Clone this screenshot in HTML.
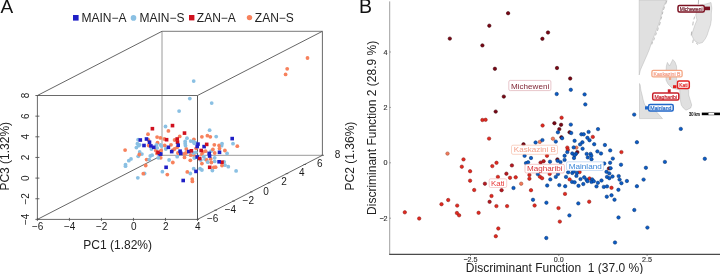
<!DOCTYPE html>
<html><head><meta charset="utf-8"><style>
html,body{margin:0;padding:0;background:#fff;width:720px;height:274px;overflow:hidden}
svg{display:block;will-change:transform}
text{font-family:"Liberation Sans",sans-serif}
</style></head><body>
<svg width="720" height="274" viewBox="0 0 720 274">

<text x="0.5" y="13.2" font-size="19" fill="#111">A</text>
<text x="358.9" y="13.4" font-size="19.5" fill="#111">B</text>
<rect x="73" y="15" width="5.6" height="5.6" fill="#1f1fc6"/>
<text x="81.5" y="22" font-size="12" fill="#222">MAIN−A</text>
<circle cx="133.5" cy="17.9" r="2.8" fill="#8ac0e3"/>
<text x="139.5" y="22" font-size="12" fill="#222">MAIN−S</text>
<rect x="189" y="15" width="5.4" height="5.4" fill="#d0101e"/>
<text x="196.8" y="22" font-size="12" fill="#222">ZAN−A</text>
<circle cx="249.5" cy="17.6" r="2.7" fill="#f7815c"/>
<text x="254.8" y="22" font-size="12" fill="#222">ZAN−S</text>
<line x1="162.0" y1="31.3" x2="162.0" y2="155.3" stroke="#9a9a9a" stroke-width="1.0"/>
<line x1="162.0" y1="155.3" x2="322.4" y2="155.3" stroke="#9a9a9a" stroke-width="1.0"/>
<line x1="162.0" y1="31.3" x2="322.4" y2="31.3" stroke="#7a7a7a" stroke-width="1.0"/>
<line x1="322.4" y1="31.3" x2="322.4" y2="155.3" stroke="#6a6a6a" stroke-width="1.0"/>
<line x1="37.4" y1="95.5" x2="162.0" y2="31.3" stroke="#555" stroke-width="0.9"/>
<line x1="197.5" y1="95.5" x2="322.4" y2="31.3" stroke="#555" stroke-width="0.9"/>
<line x1="37.4" y1="219.4" x2="162.0" y2="155.3" stroke="#555" stroke-width="0.9"/>
<line x1="197.5" y1="219.4" x2="322.4" y2="155.3" stroke="#555" stroke-width="0.9"/>
<line x1="37.4" y1="95.5" x2="197.5" y2="95.5" stroke="#6a6a6a" stroke-width="1.0"/>
<line x1="37.4" y1="95.5" x2="37.4" y2="219.4" stroke="#6a6a6a" stroke-width="1.0"/>
<line x1="37.4" y1="219.4" x2="197.5" y2="219.4" stroke="#6a6a6a" stroke-width="1.0"/>
<line x1="197.5" y1="95.5" x2="197.5" y2="219.4" stroke="#555" stroke-width="1.0"/>
<line x1="35.4" y1="95.5" x2="39.4" y2="95.5" stroke="#555" stroke-width="0.9"/>
<text transform="translate(28.8,95.5) rotate(-90)" font-size="10" fill="#1a1a1a" text-anchor="middle">8</text>
<line x1="35.4" y1="116.15" x2="39.4" y2="116.15" stroke="#555" stroke-width="0.9"/>
<text transform="translate(28.8,116.2) rotate(-90)" font-size="10" fill="#1a1a1a" text-anchor="middle">6</text>
<line x1="35.4" y1="136.8" x2="39.4" y2="136.8" stroke="#555" stroke-width="0.9"/>
<text transform="translate(28.8,136.8) rotate(-90)" font-size="10" fill="#1a1a1a" text-anchor="middle">4</text>
<line x1="35.4" y1="157.45" x2="39.4" y2="157.45" stroke="#555" stroke-width="0.9"/>
<text transform="translate(28.8,157.4) rotate(-90)" font-size="10" fill="#1a1a1a" text-anchor="middle">2</text>
<line x1="35.4" y1="178.10000000000002" x2="39.4" y2="178.10000000000002" stroke="#555" stroke-width="0.9"/>
<text transform="translate(28.8,178.1) rotate(-90)" font-size="10" fill="#1a1a1a" text-anchor="middle">0</text>
<line x1="35.4" y1="198.75" x2="39.4" y2="198.75" stroke="#555" stroke-width="0.9"/>
<text transform="translate(28.8,198.8) rotate(-90)" font-size="10" fill="#1a1a1a" text-anchor="middle">−2</text>
<line x1="35.4" y1="219.4" x2="39.4" y2="219.4" stroke="#555" stroke-width="0.9"/>
<text transform="translate(28.8,219.4) rotate(-90)" font-size="10" fill="#1a1a1a" text-anchor="middle">−4</text>
<line x1="37.4" y1="217.9" x2="37.4" y2="220.9" stroke="#555" stroke-width="0.9"/>
<text x="37.6" y="230.3" font-size="10" fill="#1a1a1a" text-anchor="middle">−6</text>
<line x1="69.41999999999999" y1="217.9" x2="69.41999999999999" y2="220.9" stroke="#555" stroke-width="0.9"/>
<text x="69.6" y="230.3" font-size="10" fill="#1a1a1a" text-anchor="middle">−4</text>
<line x1="101.44" y1="217.9" x2="101.44" y2="220.9" stroke="#555" stroke-width="0.9"/>
<text x="101.6" y="230.3" font-size="10" fill="#1a1a1a" text-anchor="middle">−2</text>
<line x1="133.45999999999998" y1="217.9" x2="133.45999999999998" y2="220.9" stroke="#555" stroke-width="0.9"/>
<text x="133.7" y="230.3" font-size="10" fill="#1a1a1a" text-anchor="middle">0</text>
<line x1="165.48" y1="217.9" x2="165.48" y2="220.9" stroke="#555" stroke-width="0.9"/>
<text x="165.7" y="230.3" font-size="10" fill="#1a1a1a" text-anchor="middle">2</text>
<line x1="197.49999999999997" y1="217.9" x2="197.49999999999997" y2="220.9" stroke="#555" stroke-width="0.9"/>
<text x="197.7" y="230.3" font-size="10" fill="#1a1a1a" text-anchor="middle">4</text>
<line x1="196.5" y1="219.4" x2="199.0" y2="219.4" stroke="#555" stroke-width="0.9"/>
<text x="212.6" y="222.0" font-size="10" fill="#1a1a1a" text-anchor="middle">−6</text>
<line x1="214.34285714285713" y1="210.24285714285716" x2="216.84285714285713" y2="210.24285714285716" stroke="#555" stroke-width="0.9"/>
<text x="230.4" y="212.8" font-size="10" fill="#1a1a1a" text-anchor="middle">−4</text>
<line x1="232.18571428571428" y1="201.0857142857143" x2="234.68571428571428" y2="201.0857142857143" stroke="#555" stroke-width="0.9"/>
<text x="248.3" y="203.7" font-size="10" fill="#1a1a1a" text-anchor="middle">−2</text>
<line x1="250.0285714285714" y1="191.92857142857144" x2="252.5285714285714" y2="191.92857142857144" stroke="#555" stroke-width="0.9"/>
<text x="266.1" y="194.5" font-size="10" fill="#1a1a1a" text-anchor="middle">0</text>
<line x1="267.87142857142857" y1="182.77142857142857" x2="270.37142857142857" y2="182.77142857142857" stroke="#555" stroke-width="0.9"/>
<text x="284.0" y="185.4" font-size="10" fill="#1a1a1a" text-anchor="middle">2</text>
<line x1="285.71428571428567" y1="173.61428571428573" x2="288.21428571428567" y2="173.61428571428573" stroke="#555" stroke-width="0.9"/>
<text x="301.8" y="176.2" font-size="10" fill="#1a1a1a" text-anchor="middle">4</text>
<line x1="303.5571428571428" y1="164.45714285714286" x2="306.0571428571428" y2="164.45714285714286" stroke="#555" stroke-width="0.9"/>
<text x="319.7" y="167.1" font-size="10" fill="#1a1a1a" text-anchor="middle">6</text>
<line x1="321.4" y1="155.3" x2="323.9" y2="155.3" stroke="#555" stroke-width="0.9"/>
<text x="337.5" y="157.9" font-size="10" fill="#1a1a1a" text-anchor="middle">8</text>
<text x="83.3" y="248.7" font-size="12" fill="#222">PC1 (1.82%)</text>
<text transform="translate(9.4,190.6) rotate(-90)" font-size="12" fill="#222">PC3 (1.32%)</text>
<text transform="translate(353.9,190.4) rotate(-90)" font-size="12" fill="#222">PC2 (1.36%)</text>
<circle cx="205.2" cy="159.2" r="1.9" fill="#8ac0e3"/>
<circle cx="137.4" cy="143.7" r="1.9" fill="#8ac0e3"/>
<circle cx="228.3" cy="166.7" r="1.9" fill="#8ac0e3"/>
<circle cx="177.2" cy="156.7" r="1.9" fill="#8ac0e3"/>
<circle cx="211.7" cy="103.1" r="1.9" fill="#8ac0e3"/>
<circle cx="160.4" cy="144.8" r="1.9" fill="#8ac0e3"/>
<circle cx="285.6" cy="74.4" r="1.9" fill="#f7815c"/>
<circle cx="221.6" cy="145.7" r="1.9" fill="#8ac0e3"/>
<circle cx="155.8" cy="150.5" r="1.9" fill="#f7815c"/>
<circle cx="237.3" cy="146.2" r="1.9" fill="#f7815c"/>
<circle cx="200.1" cy="168.7" r="1.9" fill="#8ac0e3"/>
<circle cx="307.5" cy="58" r="1.9" fill="#f7815c"/>
<circle cx="131" cy="158.9" r="1.9" fill="#8ac0e3"/>
<circle cx="172.8" cy="162.5" r="1.9" fill="#f7815c"/>
<circle cx="233" cy="143.7" r="1.9" fill="#8ac0e3"/>
<circle cx="168.4" cy="130.9" r="1.9" fill="#f7815c"/>
<circle cx="206.7" cy="160" r="1.9" fill="#f7815c"/>
<circle cx="136.4" cy="147.6" r="1.9" fill="#8ac0e3"/>
<circle cx="172.8" cy="150.1" r="1.9" fill="#f7815c"/>
<circle cx="214.3" cy="144.8" r="1.9" fill="#f7815c"/>
<circle cx="152.1" cy="155.2" r="1.9" fill="#8ac0e3"/>
<circle cx="194.3" cy="156" r="1.9" fill="#f7815c"/>
<circle cx="171" cy="144.8" r="1.9" fill="#f7815c"/>
<circle cx="177.2" cy="147.3" r="1.9" fill="#f7815c"/>
<circle cx="195.8" cy="152.3" r="1.9" fill="#8ac0e3"/>
<circle cx="201.9" cy="154.1" r="1.9" fill="#f7815c"/>
<circle cx="150.3" cy="156" r="1.9" fill="#8ac0e3"/>
<circle cx="190.3" cy="173.5" r="1.9" fill="#8ac0e3"/>
<circle cx="193.7" cy="81.1" r="1.9" fill="#8ac0e3"/>
<circle cx="209.6" cy="130.2" r="1.9" fill="#8ac0e3"/>
<circle cx="169.1" cy="160" r="1.9" fill="#8ac0e3"/>
<circle cx="193.2" cy="153" r="1.9" fill="#8ac0e3"/>
<circle cx="128.8" cy="160.7" r="1.9" fill="#8ac0e3"/>
<circle cx="194.3" cy="143.3" r="1.9" fill="#8ac0e3"/>
<circle cx="160.7" cy="157.8" r="1.9" fill="#f7815c"/>
<circle cx="157.1" cy="137.1" r="1.9" fill="#f7815c"/>
<circle cx="146.6" cy="159.6" r="1.9" fill="#f7815c"/>
<circle cx="157.5" cy="142.6" r="1.9" fill="#f7815c"/>
<circle cx="137.8" cy="177.8" r="1.9" fill="#8ac0e3"/>
<circle cx="185.2" cy="141.5" r="1.9" fill="#8ac0e3"/>
<circle cx="219.1" cy="145.5" r="1.9" fill="#f7815c"/>
<circle cx="193.9" cy="139.3" r="1.9" fill="#f7815c"/>
<circle cx="203.8" cy="156.7" r="1.9" fill="#8ac0e3"/>
<circle cx="212.4" cy="170.5" r="1.9" fill="#8ac0e3"/>
<circle cx="214.7" cy="157.8" r="1.9" fill="#8ac0e3"/>
<circle cx="144.6" cy="173.5" r="1.9" fill="#8ac0e3"/>
<circle cx="125.1" cy="150.1" r="1.9" fill="#f7815c"/>
<circle cx="195.4" cy="142.6" r="1.9" fill="#8ac0e3"/>
<circle cx="184.1" cy="153.8" r="1.9" fill="#f7815c"/>
<circle cx="174.6" cy="149" r="1.9" fill="#f7815c"/>
<circle cx="187.3" cy="171.9" r="1.9" fill="#f7815c"/>
<circle cx="193.7" cy="168.7" r="1.9" fill="#8ac0e3"/>
<circle cx="190.7" cy="155.2" r="1.9" fill="#f7815c"/>
<circle cx="214.7" cy="161.4" r="1.9" fill="#8ac0e3"/>
<circle cx="145.7" cy="165.5" r="1.9" fill="#f7815c"/>
<circle cx="179.7" cy="136.4" r="1.9" fill="#f7815c"/>
<circle cx="190.3" cy="160.3" r="1.9" fill="#f7815c"/>
<circle cx="185.9" cy="153" r="1.9" fill="#f7815c"/>
<circle cx="207.8" cy="162.2" r="1.9" fill="#8ac0e3"/>
<circle cx="193.2" cy="141.5" r="1.9" fill="#8ac0e3"/>
<circle cx="138.2" cy="156.3" r="1.9" fill="#8ac0e3"/>
<circle cx="225" cy="165.2" r="1.9" fill="#8ac0e3"/>
<circle cx="211.1" cy="151.2" r="1.9" fill="#8ac0e3"/>
<circle cx="138.6" cy="145.7" r="1.9" fill="#8ac0e3"/>
<circle cx="224.2" cy="161.8" r="1.9" fill="#8ac0e3"/>
<circle cx="174.6" cy="140" r="1.9" fill="#f7815c"/>
<circle cx="158.3" cy="157.8" r="1.9" fill="#8ac0e3"/>
<circle cx="151.4" cy="149" r="1.9" fill="#8ac0e3"/>
<circle cx="161.1" cy="150.5" r="1.9" fill="#f7815c"/>
<circle cx="139.7" cy="151.9" r="1.9" fill="#8ac0e3"/>
<circle cx="219.5" cy="148.6" r="1.9" fill="#f7815c"/>
<circle cx="194.3" cy="158.1" r="1.9" fill="#8ac0e3"/>
<circle cx="125.5" cy="164.7" r="1.9" fill="#8ac0e3"/>
<circle cx="211.4" cy="162.5" r="1.9" fill="#f7815c"/>
<circle cx="165.5" cy="126.5" r="1.9" fill="#8ac0e3"/>
<circle cx="201.9" cy="170" r="1.9" fill="#8ac0e3"/>
<circle cx="200.8" cy="160" r="1.9" fill="#8ac0e3"/>
<circle cx="187" cy="138.2" r="1.9" fill="#8ac0e3"/>
<circle cx="141.9" cy="154.1" r="1.9" fill="#8ac0e3"/>
<circle cx="192.2" cy="179.1" r="1.9" fill="#f7815c"/>
<circle cx="207.4" cy="135.7" r="1.9" fill="#f7815c"/>
<circle cx="157.2" cy="147.9" r="1.9" fill="#8ac0e3"/>
<circle cx="184.5" cy="157.4" r="1.9" fill="#f7815c"/>
<circle cx="222" cy="165.5" r="1.9" fill="#f7815c"/>
<circle cx="210.3" cy="136.8" r="1.9" fill="#f7815c"/>
<circle cx="222" cy="143.7" r="1.9" fill="#8ac0e3"/>
<circle cx="179.1" cy="111.1" r="1.9" fill="#8ac0e3"/>
<circle cx="227.1" cy="153.4" r="1.9" fill="#8ac0e3"/>
<circle cx="125.5" cy="166.2" r="1.9" fill="#8ac0e3"/>
<circle cx="139.3" cy="154.5" r="1.9" fill="#f7815c"/>
<circle cx="190.7" cy="141.1" r="1.9" fill="#8ac0e3"/>
<circle cx="201.9" cy="163.6" r="1.9" fill="#f7815c"/>
<circle cx="164.7" cy="145.5" r="1.9" fill="#f7815c"/>
<circle cx="210.7" cy="158.9" r="1.9" fill="#f7815c"/>
<circle cx="186.3" cy="149" r="1.9" fill="#f7815c"/>
<circle cx="139.6" cy="144.8" r="1.9" fill="#8ac0e3"/>
<circle cx="287.2" cy="68.8" r="1.9" fill="#f7815c"/>
<circle cx="196.1" cy="148.3" r="1.9" fill="#f7815c"/>
<circle cx="201.9" cy="136.8" r="1.9" fill="#f7815c"/>
<circle cx="212.9" cy="149.4" r="1.9" fill="#f7815c"/>
<circle cx="185.2" cy="143.7" r="1.9" fill="#8ac0e3"/>
<circle cx="164.4" cy="139" r="1.9" fill="#f7815c"/>
<circle cx="156.4" cy="144.8" r="1.9" fill="#8ac0e3"/>
<circle cx="203" cy="151.9" r="1.9" fill="#f7815c"/>
<circle cx="214.7" cy="153" r="1.9" fill="#f7815c"/>
<circle cx="156.9" cy="153.4" r="1.9" fill="#f7815c"/>
<circle cx="224.9" cy="150.5" r="1.9" fill="#f7815c"/>
<circle cx="177.9" cy="153" r="1.9" fill="#f7815c"/>
<circle cx="165.8" cy="149" r="1.9" fill="#8ac0e3"/>
<circle cx="185.5" cy="145.7" r="1.9" fill="#8ac0e3"/>
<circle cx="167.3" cy="174.6" r="1.9" fill="#f7815c"/>
<circle cx="216.2" cy="136.6" r="1.9" fill="#8ac0e3"/>
<circle cx="148.4" cy="140" r="1.9" fill="#f7815c"/>
<circle cx="205.6" cy="151.2" r="1.9" fill="#f7815c"/>
<circle cx="189.8" cy="98.6" r="1.9" fill="#8ac0e3"/>
<circle cx="148.7" cy="145.5" r="1.9" fill="#f7815c"/>
<circle cx="162.4" cy="171.7" r="1.9" fill="#8ac0e3"/>
<circle cx="192.4" cy="181.4" r="1.9" fill="#f7815c"/>
<circle cx="160.4" cy="137.9" r="1.9" fill="#f7815c"/>
<circle cx="149.2" cy="159.6" r="1.9" fill="#8ac0e3"/>
<circle cx="215.6" cy="167.2" r="1.9" fill="#f7815c"/>
<circle cx="148" cy="134.2" r="1.9" fill="#f7815c"/>
<circle cx="138.1" cy="139.7" r="1.9" fill="#8ac0e3"/>
<circle cx="236.1" cy="170.9" r="1.9" fill="#8ac0e3"/>
<circle cx="143.3" cy="173.7" r="1.9" fill="#f7815c"/>
<circle cx="213.8" cy="167.3" r="1.9" fill="#f7815c"/>
<circle cx="161.5" cy="146.1" r="1.9" fill="#8ac0e3"/>
<rect x="157.6" y="152.0" width="3.6" height="3.6" fill="#1f1fc6"/>
<rect x="187.0" y="149.8" width="3.6" height="3.6" fill="#1f1fc6"/>
<rect x="181.4" y="178.7" width="3.6" height="3.6" fill="#1f1fc6"/>
<rect x="202.3" y="144.8" width="3.6" height="3.6" fill="#1f1fc6"/>
<rect x="194.2" y="169.6" width="3.6" height="3.6" fill="#1f1fc6"/>
<rect x="175.7" y="140.4" width="3.6" height="3.6" fill="#d0101e"/>
<rect x="166.6" y="145.5" width="3.6" height="3.6" fill="#1f1fc6"/>
<rect x="195.4" y="155.2" width="3.6" height="3.6" fill="#1f1fc6"/>
<rect x="195.4" y="144.7" width="3.6" height="3.6" fill="#1f1fc6"/>
<rect x="170.7" y="123.8" width="3.6" height="3.6" fill="#d0101e"/>
<rect x="207.4" y="151.6" width="3.6" height="3.6" fill="#1f1fc6"/>
<rect x="158.9" y="152.3" width="3.6" height="3.6" fill="#1f1fc6"/>
<rect x="164.3" y="165.5" width="3.6" height="3.6" fill="#1f1fc6"/>
<rect x="176.4" y="143.4" width="3.6" height="3.6" fill="#1f1fc6"/>
<rect x="220.2" y="160.4" width="3.6" height="3.6" fill="#d0101e"/>
<rect x="217.3" y="160.0" width="3.6" height="3.6" fill="#1f1fc6"/>
<rect x="142.2" y="143.7" width="3.6" height="3.6" fill="#1f1fc6"/>
<rect x="189.6" y="149.0" width="3.6" height="3.6" fill="#d0101e"/>
<rect x="179.0" y="151.6" width="3.6" height="3.6" fill="#1f1fc6"/>
<rect x="169.9" y="149.8" width="3.6" height="3.6" fill="#1f1fc6"/>
<rect x="175.4" y="137.2" width="3.6" height="3.6" fill="#d0101e"/>
<rect x="230.4" y="136.8" width="3.6" height="3.6" fill="#1f1fc6"/>
<rect x="197.9" y="156.7" width="3.6" height="3.6" fill="#d0101e"/>
<rect x="207.8" y="154.2" width="3.6" height="3.6" fill="#1f1fc6"/>
<rect x="182.7" y="131.3" width="3.6" height="3.6" fill="#d0101e"/>
<rect x="196.2" y="142.3" width="3.6" height="3.6" fill="#1f1fc6"/>
<rect x="217.7" y="150.5" width="3.6" height="3.6" fill="#1f1fc6"/>
<rect x="156.2" y="150.5" width="3.6" height="3.6" fill="#d0101e"/>
<rect x="144.7" y="137.2" width="3.6" height="3.6" fill="#1f1fc6"/>
<rect x="207.9" y="165.5" width="3.6" height="3.6" fill="#d0101e"/>
<rect x="150.6" y="126.9" width="3.6" height="3.6" fill="#d0101e"/>
<rect x="204.9" y="142.6" width="3.6" height="3.6" fill="#d0101e"/>
<rect x="164.8" y="137.9" width="3.6" height="3.6" fill="#d0101e"/>
<rect x="199.4" y="148.7" width="3.6" height="3.6" fill="#d0101e"/>
<rect x="152.0" y="145.5" width="3.6" height="3.6" fill="#1f1fc6"/>
<rect x="178.3" y="149.4" width="3.6" height="3.6" fill="#1f1fc6"/>
<rect x="149.1" y="144.1" width="3.6" height="3.6" fill="#1f1fc6"/>
<rect x="147.7" y="140.4" width="3.6" height="3.6" fill="#1f1fc6"/>
<rect x="138.5" y="138.2" width="3.6" height="3.6" fill="#1f1fc6"/>
<line x1="389.7" y1="1.4" x2="389.7" y2="254.5" stroke="#a0a0a0" stroke-width="1"/>
<line x1="389.2" y1="254.4" x2="720" y2="254.4" stroke="#4a4a4a" stroke-width="1.3"/>
<text x="387.6" y="54.5" font-size="7.2" fill="#333" stroke="#333" stroke-width="0.15" text-anchor="end">4</text>
<line x1="389.5" y1="52" x2="391" y2="52" stroke="#666" stroke-width="0.6"/>
<text x="387.6" y="109.9" font-size="7.2" fill="#333" stroke="#333" stroke-width="0.15" text-anchor="end">2</text>
<line x1="389.5" y1="107.4" x2="391" y2="107.4" stroke="#666" stroke-width="0.6"/>
<text x="387.6" y="165.3" font-size="7.2" fill="#333" stroke="#333" stroke-width="0.15" text-anchor="end">0</text>
<line x1="389.5" y1="162.8" x2="391" y2="162.8" stroke="#666" stroke-width="0.6"/>
<text x="387.6" y="220.7" font-size="7.2" fill="#333" stroke="#333" stroke-width="0.15" text-anchor="end">−2</text>
<line x1="389.5" y1="218.2" x2="391" y2="218.2" stroke="#666" stroke-width="0.6"/>
<text x="470.5" y="261.8" font-size="7.2" fill="#333" stroke="#333" stroke-width="0.15" text-anchor="middle">−2.5</text>
<line x1="470.5" y1="254.5" x2="470.5" y2="255.8" stroke="#444" stroke-width="0.7"/>
<text x="558.8" y="261.8" font-size="7.2" fill="#333" stroke="#333" stroke-width="0.15" text-anchor="middle">0.0</text>
<line x1="558.8" y1="254.5" x2="558.8" y2="255.8" stroke="#444" stroke-width="0.7"/>
<text x="647.1" y="261.8" font-size="7.2" fill="#333" stroke="#333" stroke-width="0.15" text-anchor="middle">2.5</text>
<line x1="647.1" y1="254.5" x2="647.1" y2="255.8" stroke="#444" stroke-width="0.7"/>
<text x="554.5" y="272.1" font-size="12" fill="#222" text-anchor="middle" xml:space="preserve">Discriminant Function  1 (37.0 %)</text>
<text transform="translate(375.8,127.9) rotate(-90)" font-size="12" fill="#222" text-anchor="middle">Discriminant Function 2 (28.9 %)</text>
<circle cx="449.8" cy="38.6" r="1.72" fill="#7a0614" stroke="#3c0008" stroke-width="0.55"/>
<circle cx="489.3" cy="25.7" r="1.72" fill="#7a0614" stroke="#3c0008" stroke-width="0.55"/>
<circle cx="508.1" cy="13.2" r="1.72" fill="#7a0614" stroke="#3c0008" stroke-width="0.55"/>
<circle cx="548" cy="32.5" r="1.72" fill="#7a0614" stroke="#3c0008" stroke-width="0.55"/>
<circle cx="542.4" cy="38.8" r="1.72" fill="#7a0614" stroke="#3c0008" stroke-width="0.55"/>
<circle cx="482.4" cy="45.4" r="1.72" fill="#7a0614" stroke="#3c0008" stroke-width="0.55"/>
<circle cx="494.9" cy="68.8" r="1.72" fill="#7a0614" stroke="#3c0008" stroke-width="0.55"/>
<circle cx="557" cy="68" r="1.72" fill="#7a0614" stroke="#3c0008" stroke-width="0.55"/>
<circle cx="570.2" cy="78.5" r="1.72" fill="#7a0614" stroke="#3c0008" stroke-width="0.55"/>
<circle cx="495.7" cy="111.6" r="1.72" fill="#7a0614" stroke="#3c0008" stroke-width="0.55"/>
<circle cx="503.8" cy="96.6" r="1.72" fill="#7a0614" stroke="#3c0008" stroke-width="0.55"/>
<circle cx="554.4" cy="123.2" r="1.72" fill="#7a0614" stroke="#3c0008" stroke-width="0.55"/>
<circle cx="561.1" cy="124.8" r="1.72" fill="#7a0614" stroke="#3c0008" stroke-width="0.55"/>
<circle cx="559.3" cy="129.1" r="1.72" fill="#7a0614" stroke="#3c0008" stroke-width="0.55"/>
<circle cx="523.5" cy="144.3" r="1.72" fill="#7a0614" stroke="#3c0008" stroke-width="0.55"/>
<circle cx="569.6" cy="132.3" r="1.72" fill="#7a0614" stroke="#3c0008" stroke-width="0.55"/>
<circle cx="561.4" cy="137.3" r="1.72" fill="#7a0614" stroke="#3c0008" stroke-width="0.55"/>
<circle cx="557.4" cy="159.4" r="1.72" fill="#7a0614" stroke="#3c0008" stroke-width="0.55"/>
<circle cx="577.3" cy="152.1" r="1.72" fill="#7a0614" stroke="#3c0008" stroke-width="0.55"/>
<circle cx="609.0" cy="168.4" r="1.72" fill="#7a0614" stroke="#3c0008" stroke-width="0.55"/>
<circle cx="492.3" cy="166.1" r="1.72" fill="#e3291f" stroke="#8e1a16" stroke-width="0.55"/>
<circle cx="482.4" cy="120" r="1.72" fill="#e3291f" stroke="#8e1a16" stroke-width="0.55"/>
<circle cx="485.6" cy="119.8" r="1.72" fill="#e3291f" stroke="#8e1a16" stroke-width="0.55"/>
<circle cx="561.6" cy="117.7" r="1.72" fill="#e3291f" stroke="#8e1a16" stroke-width="0.55"/>
<circle cx="542.6" cy="125.5" r="1.72" fill="#e3291f" stroke="#8e1a16" stroke-width="0.55"/>
<circle cx="489.1" cy="138.6" r="1.72" fill="#e3291f" stroke="#8e1a16" stroke-width="0.55"/>
<circle cx="463.5" cy="159.4" r="1.72" fill="#e3291f" stroke="#8e1a16" stroke-width="0.55"/>
<circle cx="461.8" cy="166.7" r="1.72" fill="#e3291f" stroke="#8e1a16" stroke-width="0.55"/>
<circle cx="496.5" cy="162.8" r="1.72" fill="#e3291f" stroke="#8e1a16" stroke-width="0.55"/>
<circle cx="547" cy="155.8" r="1.72" fill="#e3291f" stroke="#8e1a16" stroke-width="0.55"/>
<circle cx="592.8" cy="136.9" r="1.72" fill="#e3291f" stroke="#8e1a16" stroke-width="0.55"/>
<circle cx="567.3" cy="147.6" r="1.72" fill="#e3291f" stroke="#8e1a16" stroke-width="0.55"/>
<circle cx="567.8" cy="149.8" r="1.72" fill="#e3291f" stroke="#8e1a16" stroke-width="0.55"/>
<circle cx="621.4" cy="152.1" r="1.72" fill="#e3291f" stroke="#8e1a16" stroke-width="0.55"/>
<circle cx="470.1" cy="171.2" r="1.72" fill="#e3291f" stroke="#8e1a16" stroke-width="0.55"/>
<circle cx="470.1" cy="180.7" r="1.72" fill="#e3291f" stroke="#8e1a16" stroke-width="0.55"/>
<circle cx="497.9" cy="176.9" r="1.72" fill="#e3291f" stroke="#8e1a16" stroke-width="0.55"/>
<circle cx="474.2" cy="190" r="1.72" fill="#e3291f" stroke="#8e1a16" stroke-width="0.55"/>
<circle cx="510" cy="177.8" r="1.72" fill="#e3291f" stroke="#8e1a16" stroke-width="0.55"/>
<circle cx="515.7" cy="177.3" r="1.72" fill="#e3291f" stroke="#8e1a16" stroke-width="0.55"/>
<circle cx="529.4" cy="175" r="1.72" fill="#e3291f" stroke="#8e1a16" stroke-width="0.55"/>
<circle cx="529.4" cy="178.7" r="1.72" fill="#e3291f" stroke="#8e1a16" stroke-width="0.55"/>
<circle cx="531" cy="190.2" r="1.72" fill="#e3291f" stroke="#8e1a16" stroke-width="0.55"/>
<circle cx="539.9" cy="176.7" r="1.72" fill="#e3291f" stroke="#8e1a16" stroke-width="0.55"/>
<circle cx="542.1" cy="178.2" r="1.72" fill="#e3291f" stroke="#8e1a16" stroke-width="0.55"/>
<circle cx="549.7" cy="173.9" r="1.72" fill="#e3291f" stroke="#8e1a16" stroke-width="0.55"/>
<circle cx="579.6" cy="172.1" r="1.72" fill="#e3291f" stroke="#8e1a16" stroke-width="0.55"/>
<circle cx="569.6" cy="179.4" r="1.72" fill="#e3291f" stroke="#8e1a16" stroke-width="0.55"/>
<circle cx="589.5" cy="178.5" r="1.72" fill="#e3291f" stroke="#8e1a16" stroke-width="0.55"/>
<circle cx="611.5" cy="187.8" r="1.72" fill="#e3291f" stroke="#8e1a16" stroke-width="0.55"/>
<circle cx="441.5" cy="204.2" r="1.72" fill="#e3291f" stroke="#8e1a16" stroke-width="0.55"/>
<circle cx="448.2" cy="200" r="1.72" fill="#e3291f" stroke="#8e1a16" stroke-width="0.55"/>
<circle cx="404.8" cy="212.3" r="1.72" fill="#e3291f" stroke="#8e1a16" stroke-width="0.55"/>
<circle cx="491.5" cy="196" r="1.72" fill="#e3291f" stroke="#8e1a16" stroke-width="0.55"/>
<circle cx="457.2" cy="205.6" r="1.72" fill="#e3291f" stroke="#8e1a16" stroke-width="0.55"/>
<circle cx="496.4" cy="206.1" r="1.72" fill="#e3291f" stroke="#8e1a16" stroke-width="0.55"/>
<circle cx="456.9" cy="213" r="1.72" fill="#e3291f" stroke="#8e1a16" stroke-width="0.55"/>
<circle cx="459.1" cy="215.3" r="1.72" fill="#e3291f" stroke="#8e1a16" stroke-width="0.55"/>
<circle cx="478.6" cy="212.8" r="1.72" fill="#e3291f" stroke="#8e1a16" stroke-width="0.55"/>
<circle cx="507.1" cy="206.1" r="1.72" fill="#e3291f" stroke="#8e1a16" stroke-width="0.55"/>
<circle cx="534.6" cy="205.5" r="1.72" fill="#e3291f" stroke="#8e1a16" stroke-width="0.55"/>
<circle cx="558.5" cy="208.1" r="1.72" fill="#e3291f" stroke="#8e1a16" stroke-width="0.55"/>
<circle cx="565" cy="193.9" r="1.72" fill="#e3291f" stroke="#8e1a16" stroke-width="0.55"/>
<circle cx="589.2" cy="201.7" r="1.72" fill="#e3291f" stroke="#8e1a16" stroke-width="0.55"/>
<circle cx="419.2" cy="218.5" r="1.72" fill="#e3291f" stroke="#8e1a16" stroke-width="0.55"/>
<circle cx="498.3" cy="228.5" r="1.72" fill="#e3291f" stroke="#8e1a16" stroke-width="0.55"/>
<circle cx="495.8" cy="236.2" r="1.72" fill="#e3291f" stroke="#8e1a16" stroke-width="0.55"/>
<circle cx="559.8" cy="221.6" r="1.72" fill="#e3291f" stroke="#8e1a16" stroke-width="0.55"/>
<circle cx="540.6" cy="162.6" r="1.72" fill="#b81820" stroke="#6a0c10" stroke-width="0.55"/>
<circle cx="543.6" cy="161.2" r="1.72" fill="#b81820" stroke="#6a0c10" stroke-width="0.55"/>
<circle cx="511.9" cy="165.4" r="1.72" fill="#b81820" stroke="#6a0c10" stroke-width="0.55"/>
<circle cx="484.9" cy="183.7" r="1.72" fill="#b81820" stroke="#6a0c10" stroke-width="0.55"/>
<circle cx="501.6" cy="190.2" r="1.72" fill="#b81820" stroke="#6a0c10" stroke-width="0.55"/>
<circle cx="506.4" cy="173.7" r="1.72" fill="#b81820" stroke="#6a0c10" stroke-width="0.55"/>
<circle cx="489.6" cy="201.8" r="1.72" fill="#b81820" stroke="#6a0c10" stroke-width="0.55"/>
<circle cx="447.5" cy="153.6" r="1.72" fill="#f47a5a" stroke="#a04830" stroke-width="0.55"/>
<circle cx="552.9" cy="138.7" r="1.72" fill="#f47a5a" stroke="#a04830" stroke-width="0.55"/>
<circle cx="539.8" cy="141.9" r="1.72" fill="#f47a5a" stroke="#a04830" stroke-width="0.55"/>
<circle cx="576.4" cy="147.6" r="1.72" fill="#f47a5a" stroke="#a04830" stroke-width="0.55"/>
<circle cx="521.2" cy="183.7" r="1.72" fill="#f47a5a" stroke="#a04830" stroke-width="0.55"/>
<circle cx="556.7" cy="94" r="1.72" fill="#0b5cc8" stroke="#08336e" stroke-width="0.55"/>
<circle cx="570.8" cy="89.8" r="1.72" fill="#0b5cc8" stroke="#08336e" stroke-width="0.55"/>
<circle cx="584.6" cy="94.4" r="1.72" fill="#0b5cc8" stroke="#08336e" stroke-width="0.55"/>
<circle cx="585.3" cy="104.4" r="1.72" fill="#0b5cc8" stroke="#08336e" stroke-width="0.55"/>
<circle cx="570.8" cy="124.6" r="1.72" fill="#0b5cc8" stroke="#08336e" stroke-width="0.55"/>
<circle cx="634.2" cy="114.6" r="1.72" fill="#0b5cc8" stroke="#08336e" stroke-width="0.55"/>
<circle cx="557.9" cy="132.3" r="1.72" fill="#0b5cc8" stroke="#08336e" stroke-width="0.55"/>
<circle cx="555.8" cy="141.6" r="1.72" fill="#0b5cc8" stroke="#08336e" stroke-width="0.55"/>
<circle cx="542.4" cy="140.1" r="1.72" fill="#0b5cc8" stroke="#08336e" stroke-width="0.55"/>
<circle cx="535.6" cy="142.5" r="1.72" fill="#0b5cc8" stroke="#08336e" stroke-width="0.55"/>
<circle cx="571.2" cy="133" r="1.72" fill="#0b5cc8" stroke="#08336e" stroke-width="0.55"/>
<circle cx="562.1" cy="138.2" r="1.72" fill="#0b5cc8" stroke="#08336e" stroke-width="0.55"/>
<circle cx="574.6" cy="140.8" r="1.72" fill="#0b5cc8" stroke="#08336e" stroke-width="0.55"/>
<circle cx="581.4" cy="134.3" r="1.72" fill="#0b5cc8" stroke="#08336e" stroke-width="0.55"/>
<circle cx="583.7" cy="134.3" r="1.72" fill="#0b5cc8" stroke="#08336e" stroke-width="0.55"/>
<circle cx="588.6" cy="131.9" r="1.72" fill="#0b5cc8" stroke="#08336e" stroke-width="0.55"/>
<circle cx="598" cy="129.1" r="1.72" fill="#0b5cc8" stroke="#08336e" stroke-width="0.55"/>
<circle cx="587.4" cy="137.8" r="1.72" fill="#0b5cc8" stroke="#08336e" stroke-width="0.55"/>
<circle cx="589.5" cy="140.2" r="1.72" fill="#0b5cc8" stroke="#08336e" stroke-width="0.55"/>
<circle cx="582.4" cy="142.3" r="1.72" fill="#0b5cc8" stroke="#08336e" stroke-width="0.55"/>
<circle cx="580.1" cy="144.4" r="1.72" fill="#0b5cc8" stroke="#08336e" stroke-width="0.55"/>
<circle cx="594.2" cy="144.2" r="1.72" fill="#0b5cc8" stroke="#08336e" stroke-width="0.55"/>
<circle cx="604.9" cy="145" r="1.72" fill="#0b5cc8" stroke="#08336e" stroke-width="0.55"/>
<circle cx="636.9" cy="142.2" r="1.72" fill="#0b5cc8" stroke="#08336e" stroke-width="0.55"/>
<circle cx="680.8" cy="128.9" r="1.72" fill="#0b5cc8" stroke="#08336e" stroke-width="0.55"/>
<circle cx="524.6" cy="155.8" r="1.72" fill="#0b5cc8" stroke="#08336e" stroke-width="0.55"/>
<circle cx="531" cy="158" r="1.72" fill="#0b5cc8" stroke="#08336e" stroke-width="0.55"/>
<circle cx="526" cy="163.1" r="1.72" fill="#0b5cc8" stroke="#08336e" stroke-width="0.55"/>
<circle cx="528.1" cy="162.3" r="1.72" fill="#0b5cc8" stroke="#08336e" stroke-width="0.55"/>
<circle cx="550" cy="161.7" r="1.72" fill="#0b5cc8" stroke="#08336e" stroke-width="0.55"/>
<circle cx="557.6" cy="160.8" r="1.72" fill="#0b5cc8" stroke="#08336e" stroke-width="0.55"/>
<circle cx="567.3" cy="152.1" r="1.72" fill="#0b5cc8" stroke="#08336e" stroke-width="0.55"/>
<circle cx="573.7" cy="147.4" r="1.72" fill="#0b5cc8" stroke="#08336e" stroke-width="0.55"/>
<circle cx="582.6" cy="148.7" r="1.72" fill="#0b5cc8" stroke="#08336e" stroke-width="0.55"/>
<circle cx="610.2" cy="150.4" r="1.72" fill="#0b5cc8" stroke="#08336e" stroke-width="0.55"/>
<circle cx="597.4" cy="151.4" r="1.72" fill="#0b5cc8" stroke="#08336e" stroke-width="0.55"/>
<circle cx="601" cy="153.5" r="1.72" fill="#0b5cc8" stroke="#08336e" stroke-width="0.55"/>
<circle cx="572.3" cy="153.5" r="1.72" fill="#0b5cc8" stroke="#08336e" stroke-width="0.55"/>
<circle cx="576" cy="153.8" r="1.72" fill="#0b5cc8" stroke="#08336e" stroke-width="0.55"/>
<circle cx="574.6" cy="155.3" r="1.72" fill="#0b5cc8" stroke="#08336e" stroke-width="0.55"/>
<circle cx="564.6" cy="155.8" r="1.72" fill="#0b5cc8" stroke="#08336e" stroke-width="0.55"/>
<circle cx="574" cy="158" r="1.72" fill="#0b5cc8" stroke="#08336e" stroke-width="0.55"/>
<circle cx="564.6" cy="159.9" r="1.72" fill="#0b5cc8" stroke="#08336e" stroke-width="0.55"/>
<circle cx="586.7" cy="153.9" r="1.72" fill="#0b5cc8" stroke="#08336e" stroke-width="0.55"/>
<circle cx="590.6" cy="153.9" r="1.72" fill="#0b5cc8" stroke="#08336e" stroke-width="0.55"/>
<circle cx="587.8" cy="157.4" r="1.72" fill="#0b5cc8" stroke="#08336e" stroke-width="0.55"/>
<circle cx="591.3" cy="155.8" r="1.72" fill="#0b5cc8" stroke="#08336e" stroke-width="0.55"/>
<circle cx="591.5" cy="159.2" r="1.72" fill="#0b5cc8" stroke="#08336e" stroke-width="0.55"/>
<circle cx="560.5" cy="162.1" r="1.72" fill="#0b5cc8" stroke="#08336e" stroke-width="0.55"/>
<circle cx="612.8" cy="158.6" r="1.72" fill="#0b5cc8" stroke="#08336e" stroke-width="0.55"/>
<circle cx="610.1" cy="162.8" r="1.72" fill="#0b5cc8" stroke="#08336e" stroke-width="0.55"/>
<circle cx="604.2" cy="163.5" r="1.72" fill="#0b5cc8" stroke="#08336e" stroke-width="0.55"/>
<circle cx="621" cy="164.7" r="1.72" fill="#0b5cc8" stroke="#08336e" stroke-width="0.55"/>
<circle cx="645.9" cy="167.8" r="1.72" fill="#0b5cc8" stroke="#08336e" stroke-width="0.55"/>
<circle cx="664.9" cy="161.9" r="1.72" fill="#0b5cc8" stroke="#08336e" stroke-width="0.55"/>
<circle cx="704.8" cy="158.8" r="1.72" fill="#0b5cc8" stroke="#08336e" stroke-width="0.55"/>
<circle cx="513.5" cy="188" r="1.72" fill="#0b5cc8" stroke="#08336e" stroke-width="0.55"/>
<circle cx="537.8" cy="174.1" r="1.72" fill="#0b5cc8" stroke="#08336e" stroke-width="0.55"/>
<circle cx="550.3" cy="179.4" r="1.72" fill="#0b5cc8" stroke="#08336e" stroke-width="0.55"/>
<circle cx="547.2" cy="185.5" r="1.72" fill="#0b5cc8" stroke="#08336e" stroke-width="0.55"/>
<circle cx="555.8" cy="176.9" r="1.72" fill="#0b5cc8" stroke="#08336e" stroke-width="0.55"/>
<circle cx="558" cy="174.1" r="1.72" fill="#0b5cc8" stroke="#08336e" stroke-width="0.55"/>
<circle cx="559.3" cy="185.1" r="1.72" fill="#0b5cc8" stroke="#08336e" stroke-width="0.55"/>
<circle cx="568.2" cy="172.3" r="1.72" fill="#0b5cc8" stroke="#08336e" stroke-width="0.55"/>
<circle cx="572.3" cy="173" r="1.72" fill="#0b5cc8" stroke="#08336e" stroke-width="0.55"/>
<circle cx="573.7" cy="171.4" r="1.72" fill="#0b5cc8" stroke="#08336e" stroke-width="0.55"/>
<circle cx="576.9" cy="173" r="1.72" fill="#0b5cc8" stroke="#08336e" stroke-width="0.55"/>
<circle cx="576.4" cy="175.9" r="1.72" fill="#0b5cc8" stroke="#08336e" stroke-width="0.55"/>
<circle cx="566" cy="176.9" r="1.72" fill="#0b5cc8" stroke="#08336e" stroke-width="0.55"/>
<circle cx="572.1" cy="181.9" r="1.72" fill="#0b5cc8" stroke="#08336e" stroke-width="0.55"/>
<circle cx="574.6" cy="182.3" r="1.72" fill="#0b5cc8" stroke="#08336e" stroke-width="0.55"/>
<circle cx="580.5" cy="179.1" r="1.72" fill="#0b5cc8" stroke="#08336e" stroke-width="0.55"/>
<circle cx="584.2" cy="177.3" r="1.72" fill="#0b5cc8" stroke="#08336e" stroke-width="0.55"/>
<circle cx="586.5" cy="179.6" r="1.72" fill="#0b5cc8" stroke="#08336e" stroke-width="0.55"/>
<circle cx="587.4" cy="181.2" r="1.72" fill="#0b5cc8" stroke="#08336e" stroke-width="0.55"/>
<circle cx="592.2" cy="179.4" r="1.72" fill="#0b5cc8" stroke="#08336e" stroke-width="0.55"/>
<circle cx="591.5" cy="181.9" r="1.72" fill="#0b5cc8" stroke="#08336e" stroke-width="0.55"/>
<circle cx="593.8" cy="181.2" r="1.72" fill="#0b5cc8" stroke="#08336e" stroke-width="0.55"/>
<circle cx="597.9" cy="182.8" r="1.72" fill="#0b5cc8" stroke="#08336e" stroke-width="0.55"/>
<circle cx="601.5" cy="180.5" r="1.72" fill="#0b5cc8" stroke="#08336e" stroke-width="0.55"/>
<circle cx="583.3" cy="184" r="1.72" fill="#0b5cc8" stroke="#08336e" stroke-width="0.55"/>
<circle cx="578.5" cy="185.8" r="1.72" fill="#0b5cc8" stroke="#08336e" stroke-width="0.55"/>
<circle cx="565.2" cy="186.2" r="1.72" fill="#0b5cc8" stroke="#08336e" stroke-width="0.55"/>
<circle cx="596.5" cy="186.4" r="1.72" fill="#0b5cc8" stroke="#08336e" stroke-width="0.55"/>
<circle cx="603.8" cy="186.9" r="1.72" fill="#0b5cc8" stroke="#08336e" stroke-width="0.55"/>
<circle cx="607" cy="186.4" r="1.72" fill="#0b5cc8" stroke="#08336e" stroke-width="0.55"/>
<circle cx="606.5" cy="171.8" r="1.72" fill="#0b5cc8" stroke="#08336e" stroke-width="0.55"/>
<circle cx="609.3" cy="173.4" r="1.72" fill="#0b5cc8" stroke="#08336e" stroke-width="0.55"/>
<circle cx="610.6" cy="168.2" r="1.72" fill="#0b5cc8" stroke="#08336e" stroke-width="0.55"/>
<circle cx="607" cy="176.9" r="1.72" fill="#0b5cc8" stroke="#08336e" stroke-width="0.55"/>
<circle cx="609.3" cy="178.2" r="1.72" fill="#0b5cc8" stroke="#08336e" stroke-width="0.55"/>
<circle cx="612.5" cy="176.5" r="1.72" fill="#0b5cc8" stroke="#08336e" stroke-width="0.55"/>
<circle cx="618.7" cy="176.1" r="1.72" fill="#0b5cc8" stroke="#08336e" stroke-width="0.55"/>
<circle cx="619.6" cy="179.6" r="1.72" fill="#0b5cc8" stroke="#08336e" stroke-width="0.55"/>
<circle cx="621.4" cy="183.2" r="1.72" fill="#0b5cc8" stroke="#08336e" stroke-width="0.55"/>
<circle cx="626.9" cy="181" r="1.72" fill="#0b5cc8" stroke="#08336e" stroke-width="0.55"/>
<circle cx="643.6" cy="179.6" r="1.72" fill="#0b5cc8" stroke="#08336e" stroke-width="0.55"/>
<circle cx="636.9" cy="186.2" r="1.72" fill="#0b5cc8" stroke="#08336e" stroke-width="0.55"/>
<circle cx="618.4" cy="189.8" r="1.72" fill="#0b5cc8" stroke="#08336e" stroke-width="0.55"/>
<circle cx="533" cy="199.8" r="1.72" fill="#0b5cc8" stroke="#08336e" stroke-width="0.55"/>
<circle cx="546.4" cy="202.7" r="1.72" fill="#0b5cc8" stroke="#08336e" stroke-width="0.55"/>
<circle cx="578.3" cy="203.4" r="1.72" fill="#0b5cc8" stroke="#08336e" stroke-width="0.55"/>
<circle cx="606.8" cy="196.7" r="1.72" fill="#0b5cc8" stroke="#08336e" stroke-width="0.55"/>
<circle cx="611.5" cy="195.3" r="1.72" fill="#0b5cc8" stroke="#08336e" stroke-width="0.55"/>
<circle cx="614.5" cy="199.7" r="1.72" fill="#0b5cc8" stroke="#08336e" stroke-width="0.55"/>
<circle cx="634.3" cy="210" r="1.72" fill="#0b5cc8" stroke="#08336e" stroke-width="0.55"/>
<circle cx="569.4" cy="215.4" r="1.72" fill="#0b5cc8" stroke="#08336e" stroke-width="0.55"/>
<circle cx="546.3" cy="238" r="1.72" fill="#0b5cc8" stroke="#08336e" stroke-width="0.55"/>
<circle cx="618.5" cy="217.5" r="1.72" fill="#0b5cc8" stroke="#08336e" stroke-width="0.55"/>
<circle cx="647.4" cy="227.6" r="1.72" fill="#0b5cc8" stroke="#08336e" stroke-width="0.55"/>
<circle cx="615" cy="242.5" r="1.72" fill="#0b5cc8" stroke="#08336e" stroke-width="0.55"/>
<rect x="508.8" y="80.4" width="42.1" height="10.2" rx="1.5" fill="#fff" fill-opacity="0.92" stroke="#d9a0a8" stroke-width="0.6"/>
<text x="511" y="88.6" font-size="7.7" fill="#7b1e2e" textLength="38.2" lengthAdjust="spacingAndGlyphs">Micheweni</text>
<rect x="511.5" y="145.2" width="46.0" height="9.1" rx="1.5" fill="#fff" fill-opacity="0.92" stroke="#f7b7a0" stroke-width="0.6"/>
<text x="513.8" y="152.4" font-size="7.7" fill="#f4a08a" textLength="42.1" lengthAdjust="spacingAndGlyphs">Kaskazini B</text>
<rect x="525" y="164.3" width="39.4" height="8.7" rx="1.5" fill="#fff" fill-opacity="0.92" stroke="#eea0a0" stroke-width="0.6"/>
<text x="527" y="171.3" font-size="7.7" fill="#d8353a" textLength="35.5" lengthAdjust="spacingAndGlyphs">Magharibi</text>
<rect x="566.5" y="161.8" width="37.0" height="8.7" rx="1.5" fill="#fff" fill-opacity="0.92" stroke="#a8c8ee" stroke-width="0.6"/>
<text x="568.7" y="169.2" font-size="7.7" fill="#3a86d8" textLength="33.1" lengthAdjust="spacingAndGlyphs">Mainland</text>
<rect x="489.2" y="178.8" width="17.5" height="8.7" rx="1.5" fill="#fff" fill-opacity="0.92" stroke="#f4b0b0" stroke-width="0.6"/>
<text x="491" y="186.4" font-size="7.7" fill="#e83a3a" textLength="13.6" lengthAdjust="spacingAndGlyphs">Kati</text>
<path d="M639.2,0 L666.5,0 L664.3,5 L662.5,10 L661.3,15 L660.2,20 L658.4,25 L656.5,30 L654.5,35 L652.5,40 L650.8,45 L649.1,50 L647,55 L644.8,60 L642.6,65 L640.4,70 L639.2,75 Z" fill="#e0e0e0" stroke="#a8a8a8" stroke-width="0.4" stroke-linejoin="round"/>
<path d="M639.5,83.5 L640.2,85 L640.8,90 L642.1,95 L643.2,100 L644.8,105 L650,108.5 L655.3,110.5 L659.3,115 L662.5,118.6 L639.5,118.6 Z" fill="#e0e0e0" stroke="#a8a8a8" stroke-width="0.4" stroke-linejoin="round"/>
<path d="M706,4 L711,2.5 L711.8,8 L711.3,14 L711.3,20 L710.5,25 L708.8,30 L707.2,35 L705.5,38.5 L702.5,42.5 L699,43.5 L695.5,41.5 L693.5,39 L691.6,35 L692.5,32 L693.2,30 L694.9,25 L697,20 L695.7,15 L696.5,12.3 L697.5,8 L700,5 Z" fill="#e4e4e4" stroke="#a8a8a8" stroke-width="0.4" stroke-linejoin="round"/>
<path d="M667.4,62.4 L669.5,66 L672.8,59.5 L675,62 L676.5,66 L676.8,72 L676.5,80 L678,84 L680,88 L688.7,89.5 L688.7,95 L690.2,100 L691.7,105 L690.7,108 L686,110.2 L683.3,108 L681.3,105 L680.3,100 L679.8,95 L679.8,90 L672,88 L668,84 L666,80 L666,72 L666.4,66 Z" fill="#e0e0e0" stroke="#a8a8a8" stroke-width="0.4" stroke-linejoin="round"/>
<line x1="666.8" y1="1" x2="665.6" y2="4" stroke="#aaaaaa" stroke-width="0.8" stroke-linecap="round"/>
<line x1="664.4" y1="7" x2="663.6" y2="9.5" stroke="#aaaaaa" stroke-width="0.8" stroke-linecap="round"/>
<line x1="662.8" y1="12" x2="662.4" y2="14" stroke="#aaaaaa" stroke-width="0.8" stroke-linecap="round"/>
<line x1="661.5" y1="17" x2="661" y2="19" stroke="#aaaaaa" stroke-width="0.8" stroke-linecap="round"/>
<line x1="660.2" y1="22.5" x2="659.5" y2="25" stroke="#aaaaaa" stroke-width="0.8" stroke-linecap="round"/>
<line x1="658.2" y1="28" x2="657.6" y2="30.5" stroke="#aaaaaa" stroke-width="0.8" stroke-linecap="round"/>
<line x1="656.3" y1="33" x2="655.7" y2="35" stroke="#aaaaaa" stroke-width="0.8" stroke-linecap="round"/>
<line x1="654.4" y1="38" x2="653.8" y2="40" stroke="#aaaaaa" stroke-width="0.8" stroke-linecap="round"/>
<line x1="652.4" y1="42" x2="651.9" y2="44" stroke="#aaaaaa" stroke-width="0.8" stroke-linecap="round"/>
<line x1="698.6" y1="0" x2="698.3" y2="4" stroke="#aaaaaa" stroke-width="0.8" stroke-linecap="round"/>
<line x1="694.5" y1="17" x2="694" y2="19" stroke="#aaaaaa" stroke-width="0.8" stroke-linecap="round"/>
<line x1="693.2" y1="22" x2="692.8" y2="25" stroke="#aaaaaa" stroke-width="0.8" stroke-linecap="round"/>
<line x1="691.6" y1="32" x2="691.3" y2="35" stroke="#aaaaaa" stroke-width="0.8" stroke-linecap="round"/>
<line x1="693.2" y1="40" x2="692.8" y2="42.5" stroke="#aaaaaa" stroke-width="0.8" stroke-linecap="round"/>
<line x1="696.5" y1="43.3" x2="697.8" y2="44.3" stroke="#aaaaaa" stroke-width="0.8" stroke-linecap="round"/>
<rect x="704.5" y="6.6" width="5.5" height="3.6" fill="#7b1020"/>
<rect x="678" y="5.6" width="26.3" height="6.4" rx="1.5" fill="#fff" stroke="#7b1020" stroke-width="1.5"/>
<text x="691.15" y="11.03" font-size="6.2" fill="#6b1020" stroke="#6b1020" stroke-width="0.22" text-anchor="middle" textLength="22.9" lengthAdjust="spacingAndGlyphs">Micheweni</text>
<rect x="669" y="77" width="2.2" height="3" fill="#f4a582"/>
<rect x="651.9" y="70.4" width="30.2" height="6.5" rx="1.5" fill="#fff" stroke="#f4a582" stroke-width="1.3"/>
<text x="667.00" y="75.88" font-size="6.2" fill="#f49a80" stroke="#f49a80" stroke-width="0.22" text-anchor="middle" textLength="26.8" lengthAdjust="spacingAndGlyphs">Kaskazini B</text>
<rect x="673" y="85.2" width="3.4" height="3" fill="#e02020"/>
<rect x="677.5" y="81.1" width="11.8" height="7.3" rx="1.5" fill="#fff" stroke="#e02020" stroke-width="1.5"/>
<text x="683.40" y="86.98" font-size="6.2" fill="#e02020" stroke="#e02020" stroke-width="0.22" text-anchor="middle" textLength="8.4" lengthAdjust="spacingAndGlyphs">Kati</text>
<rect x="667.8" y="89.3" width="2.9" height="3.5" fill="#c8202a"/>
<rect x="652.7" y="93.1" width="26.1" height="7.0" rx="1.5" fill="#fff" stroke="#c8202a" stroke-width="1.5"/>
<text x="665.75" y="98.83" font-size="6.2" fill="#c8202a" stroke="#c8202a" stroke-width="0.22" text-anchor="middle" textLength="22.7" lengthAdjust="spacingAndGlyphs">Magharibi</text>
<rect x="645" y="106.3" width="3.2" height="3.2" fill="#1f66c8"/>
<rect x="648.6" y="104.6" width="24.6" height="6.5" rx="1.5" fill="#fff" stroke="#1f66c8" stroke-width="1.5"/>
<text x="660.90" y="110.08" font-size="6.2" fill="#1f66c8" stroke="#1f66c8" stroke-width="0.22" text-anchor="middle" textLength="21.2" lengthAdjust="spacingAndGlyphs">Mainland</text>
<text x="689" y="115.6" font-size="4.6" fill="#111" stroke="#111" stroke-width="0.2" textLength="10.8" lengthAdjust="spacingAndGlyphs">30 km</text>
<rect x="701.8" y="112.6" width="6.5" height="2.6" fill="#000"/>
<rect x="708.3" y="112.8" width="6" height="2.2" fill="#fff" stroke="#000" stroke-width="0.4"/>
<rect x="714.3" y="112.6" width="5.7" height="2.6" fill="#000"/>
</svg></body></html>
